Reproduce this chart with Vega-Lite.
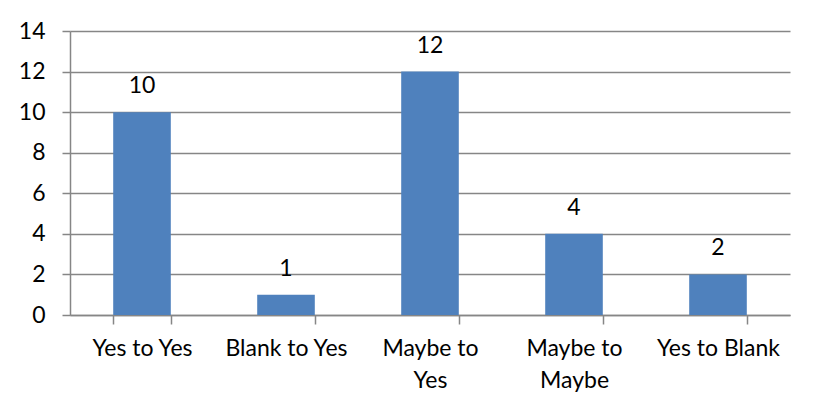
{
  "$schema": "https://vega.github.io/schema/vega-lite/v6.json",
  "width": 720,
  "height": 284,
  "autosize": {"type": "none"},
  "padding": {"left": 70, "top": 31, "right": 27, "bottom": 99},
  "background": "white",
  "config": {
    "view": {"stroke": null},
    "font": "Lato",
    "axis": {
      "labelFont": "Lato",
      "labelFontSize": 23,
      "labelColor": "#000000",
      "domainColor": "#868686",
      "domainWidth": 1.5,
      "tickColor": "#868686",
      "tickWidth": 1.5,
      "gridColor": "#868686",
      "gridWidth": 1.5
    }
  },
  "data": {
    "values": [
      {"change": "Yes to Yes", "count": 10},
      {"change": "Blank to Yes", "count": 1},
      {"change": "Maybe to Yes", "count": 12},
      {"change": "Maybe to Maybe", "count": 4},
      {"change": "Yes to Blank", "count": 2}
    ]
  },
  "encoding": {
    "x": {
      "field": "change",
      "type": "nominal",
      "sort": null,
      "scale": {"paddingInner": 0.6, "paddingOuter": 0.3},
      "axis": {
        "title": null,
        "labelAngle": 0,
        "tickBand": "extent",
        "tickSize": 9,
        "labelPadding": 13,
        "labelLineHeight": 32,
        "labelBaseline": "top",
        "labelExpr": "datum.label == 'Maybe to Yes' ? ['Maybe to', 'Yes'] : datum.label == 'Maybe to Maybe' ? ['Maybe to', 'Maybe'] : datum.label"
      }
    },
    "y": {
      "field": "count",
      "type": "quantitative",
      "scale": {"domain": [0, 14], "nice": false},
      "axis": {
        "title": null,
        "values": [0, 2, 4, 6, 8, 10, 12, 14],
        "tickSize": 8,
        "labelPadding": 17,
        "grid": true
      }
    }
  },
  "layer": [
    {"mark": {"type": "bar", "color": "#4F81BD"}},
    {
      "mark": {"type": "text", "fontSize": 23, "font": "Lato", "color": "#000000", "baseline": "alphabetic", "dy": -19},
      "encoding": {"text": {"field": "count", "type": "quantitative"}}
    }
  ]
}
